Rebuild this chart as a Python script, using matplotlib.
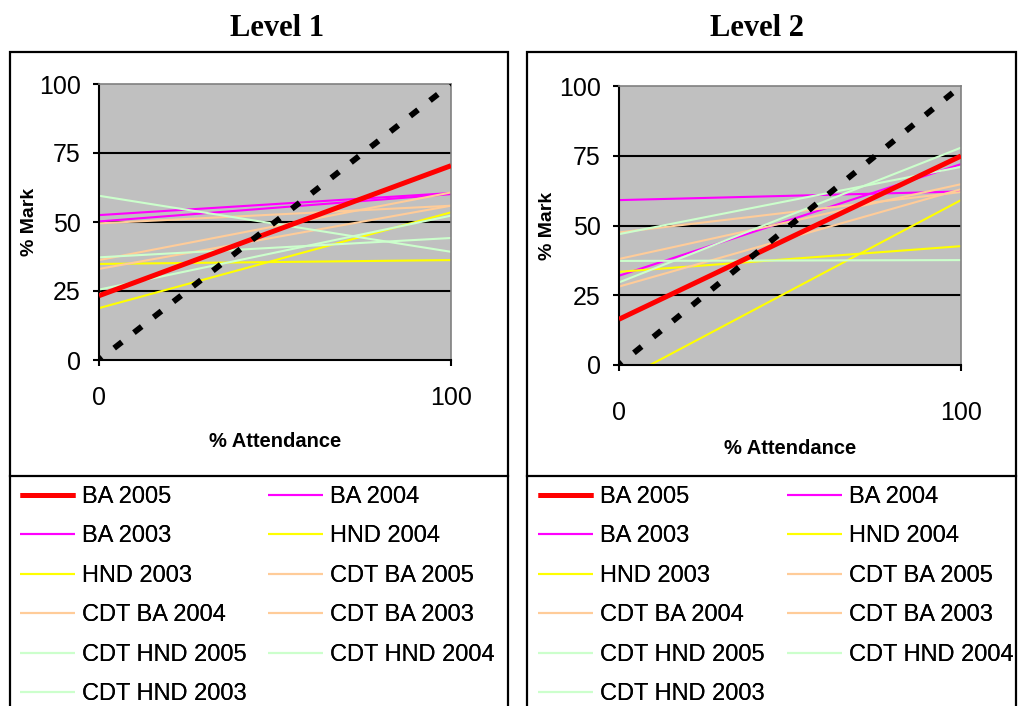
import matplotlib.pyplot as plt
from matplotlib.lines import Line2D
from matplotlib.patches import Rectangle

# trend lines: value at 0% and at 100% attendance
attendance = [0, 100]
series = ["BA 2005", "BA 2004", "BA 2003", "HND 2004", "HND 2003",
          "CDT BA 2005", "CDT BA 2004", "CDT BA 2003",
          "CDT HND 2005", "CDT HND 2004", "CDT HND 2003"]
colors = ["#FF0000", "#FF00FF", "#FF00FF", "#FFFF00", "#FFFF00",
          "#FFCC99", "#FFCC99", "#FFCC99",
          "#CCFFCC", "#CCFFCC", "#CCFFCC"]
widths = [3.6, 1.5, 1.5, 1.5, 1.5, 1.5, 1.5, 1.5, 1.5, 1.5, 1.5]

level1_start = [23.3, 52.5, 50.2, 34.8, 18.8, 49.5, 36.2, 33.0, 59.5, 37.2, 25.5]
level1_end = [70.4, 60.5, 60.1, 36.2, 53.5, 55.9, 60.7, 55.9, 39.2, 44.2, 52.3]
level2_start = [16.4, 59.1, 32.0, 33.4, -5.9, 47.5, 38.0, 28.1, 46.9, 37.3, 29.6]
level2_end = [74.9, 62.2, 72.0, 42.6, 59.1, 62.0, 64.8, 63.0, 71.0, 37.6, 77.9]

parity = [0, 100]
yticks = [0, 25, 50, 75, 100]

sans = "Liberation Sans"
serif = "Liberation Serif"

fig = plt.figure(figsize=(10.19, 7.06), dpi=100)

panels = [
    dict(title="Level 1", start=level1_start, end=level1_end,
         rect=[99 / 1019, 1 - 360 / 706, 352 / 1019, 276 / 706],
         box=(10, 508), title_x=277, xpad=15, xlab_y=442, ylab_x=30,
         leg_x=(20, 268)),
    dict(title="Level 2", start=level2_start, end=level2_end,
         rect=[619 / 1019, 1 - 365 / 706, 342 / 1019, 279 / 706],
         box=(527, 1016), title_x=757, xpad=22, xlab_y=448, ylab_x=548,
         leg_x=(538, 787)),
]

for p in panels:
    ax = fig.add_axes(p["rect"])
    ax.set_facecolor("#C0C0C0")
    handles = []
    for name, c, w, s, e in zip(series, colors, widths, p["start"], p["end"]):
        ln, = ax.plot(attendance, [s, e], color=c, lw=w, label=name,
                      zorder=3 if w > 2 else 2, solid_capstyle="butt")
        handles.append(ln)
    ax.plot(parity, parity, color="black", lw=4.2, linestyle=(1, (1.7, 2.6)),
            dash_capstyle="butt", zorder=4)
    ax.set_xlim(0, 100)
    ax.set_ylim(0, 100)
    ax.set_yticks(yticks)
    ax.set_xticks([0, 100])
    for y in [25, 50, 75]:
        ax.axhline(y, color="black", lw=1.5, zorder=1)
    ax.tick_params(axis="both", direction="out", length=4, width=1.5,
                   labelsize=18)
    ax.tick_params(axis="y", pad=9)
    ax.tick_params(axis="x", pad=p["xpad"])
    for lab in ax.get_xticklabels() + ax.get_yticklabels():
        lab.set_fontfamily(sans)
    for side in ["left", "bottom"]:
        ax.spines[side].set_linewidth(1.5)
        ax.spines[side].set_color("black")
    for side in ["top", "right"]:
        ax.spines[side].set_linewidth(1.2)
        ax.spines[side].set_color("#808080")

    fig.text(p["title_x"] / 1019, 1 - 28 / 706, p["title"], ha="center",
             va="center", fontsize=22, fontweight="bold", family=serif)
    x0 = p["rect"][0] + p["rect"][2] / 2
    fig.text(x0, 1 - p["xlab_y"] / 706, "% Attendance", ha="center",
             va="center", fontsize=14.5, fontweight="bold", family=sans)
    y0 = p["rect"][1] + p["rect"][3] / 2
    fig.text(p["ylab_x"] / 1019, y0, "% Mark", ha="center", va="center",
             rotation=90, fontsize=14, fontweight="bold", family=sans)

    # outer frame and separator
    bx0, bx1 = p["box"]
    fig.add_artist(Rectangle((bx0 / 1019, -0.02), (bx1 - bx0) / 1019,
                             1 - 52 / 706 + 0.02, transform=fig.transFigure,
                             fill=False, edgecolor="black", lw=1.6))
    fig.add_artist(Line2D([bx0 / 1019, bx1 / 1019], [1 - 476 / 706] * 2,
                          transform=fig.transFigure, color="black", lw=1.6))

    # legend in two columns, read row by row
    cols = [handles[0::2], handles[1::2]]
    for lx, hs in zip(p["leg_x"], cols):
        leg = fig.legend(handles=hs, loc="upper left",
                         bbox_to_anchor=(lx / 1019, 1 - 486 / 706),
                         bbox_transform=fig.transFigure, frameon=False,
                         borderpad=0, borderaxespad=0, handlelength=2.33,
                         handletextpad=0.3, labelspacing=0.74,
                         prop={"family": sans, "size": 17})
        fig.add_artist(leg)

fig.savefig("out.png", dpi=100)
